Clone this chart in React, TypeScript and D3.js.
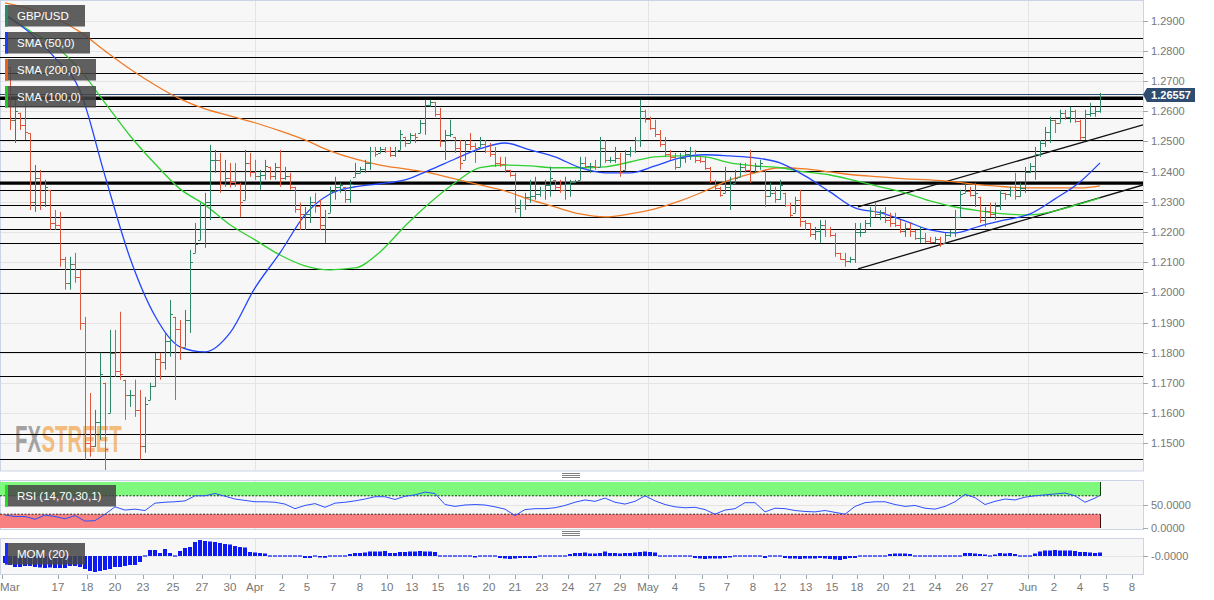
import React from "react";
import * as d3 from "d3";

// ---------- DATA (prices stored as price x 10,000) ----------
const PIP = 10000;
const firstOpen = 12820;
const highs = [
  12853, 12747, 12638, 12595, 12628, 12528, 12422, 12406, 12373, 12340,
  12273, 12267, 12118, 12118, 12131, 12075, 11919, 11667, 11611, 11800,
  11701, 11876, 11876, 11936, 11711, 11677, 11711, 11677, 11654, 11701,
  11800, 11800, 11866, 11975, 11919, 11909, 11942, 12141, 12230, 12297,
  12330, 12489, 12472, 12462, 12439, 12429, 12429, 12363, 12472, 12462,
  12439, 12406, 12439, 12416, 12429, 12472, 12416, 12396, 12350, 12297,
  12283, 12317, 12330, 12307, 12273, 12350, 12383, 12363, 12350, 12373,
  12429, 12416, 12439, 12482, 12482, 12482, 12482, 12482, 12482, 12538,
  12515, 12528, 12528, 12572, 12638, 12638, 12631, 12611, 12538, 12572,
  12515, 12505, 12505, 12528, 12495, 12515, 12505, 12495, 12482, 12449,
  12449, 12406, 12396, 12307, 12330, 12373, 12383, 12350, 12373, 12416,
  12373, 12373, 12383, 12373, 12373, 12449, 12449, 12429, 12439, 12515,
  12505, 12449, 12482, 12462, 12472, 12482, 12515, 12638, 12605, 12582,
  12572, 12538, 12515, 12472, 12462, 12462, 12472, 12482, 12472, 12449,
  12449, 12416, 12373, 12350, 12416, 12383, 12406, 12429, 12429, 12472,
  12429, 12439, 12406, 12363, 12350, 12373, 12330, 12297, 12317, 12340,
  12240, 12230, 12217, 12240, 12240, 12217, 12197, 12131, 12131, 12118,
  12230, 12230, 12240, 12283, 12297, 12273, 12283, 12264, 12264, 12240,
  12230, 12230, 12207, 12217, 12197, 12184, 12184, 12184, 12197, 12207,
  12273, 12340, 12363, 12350, 12363, 12317, 12283, 12297, 12297, 12340,
  12330, 12350, 12396, 12363, 12416, 12429, 12482, 12505, 12548, 12582,
  12572, 12605, 12605, 12615, 12605, 12572, 12605, 12628, 12615, 12661,
];
const lows = [
  12803, 12538, 12495, 12538, 12505, 12273, 12267, 12273, 12283, 12207,
  12207, 12085, 12009, 12009, 12032, 11876, 11446, 11456, 11488, 11512,
  11412, 11601, 11720, 11711, 11578, 11621, 11588, 11446, 11469, 11644,
  11687, 11711, 11744, 11787, 11644, 11777, 11820, 11866, 12131, 12174,
  12148, 12240, 12396, 12330, 12350, 12347, 12350, 12250, 12307, 12383,
  12373, 12340, 12373, 12373, 12373, 12350, 12373, 12340, 12264, 12207,
  12207, 12230, 12264, 12207, 12164, 12264, 12307, 12330, 12297, 12297,
  12383, 12396, 12396, 12406, 12449, 12462, 12462, 12449, 12449, 12472,
  12482, 12495, 12495, 12528, 12522, 12615, 12582, 12482, 12439, 12515,
  12462, 12406, 12439, 12472, 12429, 12482, 12462, 12449, 12416, 12416,
  12396, 12383, 12264, 12250, 12273, 12297, 12307, 12317, 12307, 12317,
  12340, 12330, 12307, 12317, 12363, 12373, 12406, 12396, 12406, 12416,
  12429, 12429, 12429, 12383, 12406, 12449, 12462, 12482, 12562, 12538,
  12515, 12482, 12449, 12439, 12406, 12416, 12429, 12439, 12429, 12429,
  12406, 12363, 12340, 12317, 12330, 12273, 12363, 12383, 12396, 12363,
  12396, 12406, 12283, 12317, 12297, 12307, 12283, 12250, 12264, 12217,
  12207, 12184, 12174, 12164, 12184, 12184, 12118, 12108, 12085, 12098,
  12098, 12184, 12197, 12217, 12250, 12240, 12230, 12217, 12217, 12197,
  12184, 12184, 12174, 12164, 12164, 12164, 12164, 12151, 12164, 12184,
  12184, 12250, 12330, 12317, 12283, 12230, 12217, 12250, 12240, 12273,
  12307, 12317, 12307, 12317, 12330, 12396, 12373, 12449, 12482, 12495,
  12528, 12562, 12572, 12562, 12562, 12505, 12505, 12582, 12582, 12595,
];
const closes = [
  12840, 12570, 12600, 12555, 12530, 12300, 12380, 12300, 12350, 12230,
  12225, 12110, 12030, 12095, 12050, 11900, 11500, 11490, 11570, 11730,
  11480, 11800, 11740, 11730, 11660, 11660, 11610, 11490, 11630, 11690,
  11780, 11770, 11840, 11930, 11880, 11820, 11910, 12100, 12160, 12210,
  12300, 12440, 12440, 12360, 12380, 12365, 12360, 12300, 12430, 12400,
  12385, 12390, 12420, 12385, 12415, 12380, 12385, 12350, 12275, 12260,
  12260, 12300, 12285, 12225, 12250, 12335, 12350, 12355, 12310, 12360,
  12395, 12410, 12430, 12470, 12460, 12475, 12468, 12455, 12468, 12525,
  12495, 12520, 12515, 12560, 12620, 12632, 12590, 12500, 12520, 12525,
  12480, 12430, 12490, 12485, 12480, 12490, 12470, 12460, 12430, 12425,
  12405, 12388, 12280, 12290, 12315, 12320, 12325, 12340, 12355, 12380,
  12350, 12340, 12360, 12365, 12370, 12430, 12420, 12420, 12415, 12480,
  12440, 12440, 12445, 12400, 12460, 12470, 12505, 12600, 12575, 12545,
  12525, 12490, 12460, 12448, 12415, 12445, 12460, 12470, 12440, 12435,
  12412, 12370, 12345, 12322, 12350, 12360, 12380, 12415, 12405, 12400,
  12420, 12430, 12320, 12330, 12310, 12355, 12290, 12255, 12305, 12235,
  12230, 12195, 12205, 12225, 12210, 12190, 12130, 12112, 12105, 12112,
  12200, 12200, 12230, 12270, 12260, 12265, 12240, 12230, 12225, 12205,
  12215, 12205, 12180, 12180, 12170, 12168, 12178, 12160, 12190, 12200,
  12250, 12325, 12335, 12322, 12330, 12240, 12270, 12260, 12285, 12330,
  12325, 12340, 12320, 12345, 12400, 12420, 12460, 12495, 12530, 12570,
  12560, 12595, 12580, 12600, 12568, 12515, 12590, 12595, 12600, 12655.7,
];

// moving averages, one reading every 5 bars (last reading on the final bar)
const sma50 = [
  12918, 12860, 12777, 12668, 12386, 12114, 11922, 11820, 11803, 11866,
  12015, 12131, 12257, 12326, 12350, 12360, 12373, 12406, 12442, 12476,
  12495, 12472, 12449, 12413, 12396, 12396, 12419, 12446, 12456, 12452,
  12446, 12429, 12386, 12333, 12280, 12264, 12237, 12207, 12197, 12220,
  12240, 12260, 12310, 12366, 12429,
];
const sma100 = [
  12923, 12866, 12817, 12737, 12628, 12519, 12426, 12343, 12290, 12224,
  12174, 12124, 12088, 12075, 12081, 12134, 12220, 12297, 12363, 12413,
  12422, 12419, 12413, 12413, 12416, 12432, 12449, 12452, 12449, 12429,
  12419, 12413, 12399, 12389, 12370, 12350, 12330, 12303, 12283, 12270,
  12260, 12257, 12270, 12293, 12313,
];
const sma200 = [
  12959, 12939, 12909, 12863, 12800, 12740, 12687, 12641, 12608, 12585,
  12562, 12535, 12505, 12469, 12442, 12422, 12409, 12396, 12376, 12356,
  12336, 12307, 12283, 12260, 12250, 12260, 12277, 12303, 12336, 12373,
  12396, 12413, 12409, 12399, 12389, 12383, 12376, 12373, 12366, 12356,
  12350, 12346, 12346, 12346, 12353,
];

// RSI, one reading every 2 bars (last reading on the final bar)
const rsi14 = [
  28, 25, 25, 19, 28, 25, 20, 27, 15, 16,
  30, 46, 39, 41, 38, 54, 56, 57, 59, 70,
  70, 75, 69, 63, 60, 57, 57, 56, 52, 42,
  49, 53, 45, 54, 56, 59, 63, 68, 68, 62,
  69, 72, 78, 75, 51, 47, 50, 51, 50, 46,
  41, 27, 40, 42, 42, 44, 49, 56, 61, 58,
  65, 56, 52, 58, 70, 59, 51, 46, 44, 45,
  40, 30, 39, 42, 55, 55, 35, 43, 42, 38,
  36, 35, 38, 34, 30, 47, 55, 57, 57, 51,
  47, 49, 43, 41, 47, 57, 73, 66, 51, 58,
  63, 61, 67, 70, 72, 74, 76, 70, 56, 65,
  71,
];

// Momentum (20), one value per bar
const mom20 = [
  -0.07, -0.09, -0.11, -0.11, -0.1, -0.1, -0.11, -0.115, -0.12, -0.115,
  -0.12, -0.12, -0.12, -0.1, -0.1, -0.11, -0.13, -0.15, -0.16, -0.15,
  -0.14, -0.13, -0.11, -0.11, -0.1, -0.09, -0.09, -0.06, -0.01, 0.06,
  0.06, 0.03, 0.07, 0.03, 0.0, 0.05, 0.08, 0.09, 0.14, 0.16,
  0.15, 0.145, 0.14, 0.13, 0.12, 0.115, 0.1, 0.09, 0.085, 0.04,
  0.035, 0.03, 0.025, 0.005, 0, 0, -0.005, -0.005, -0.005, -0.01,
  -0.02, -0.02, -0.01, -0.015, -0.018, -0.01, -0.005, -0.005, -0.005, 0.02,
  0.03, 0.03, 0.035, 0.045, 0.045, 0.045, 0.05, 0.03, 0.03, 0.04,
  0.04, 0.045, 0.045, 0.05, 0.045, 0.045, 0.04, 0.01, 0.01, 0.01,
  0.005, -0.01, -0.01, -0.01, -0.015, -0.01, -0.01, -0.005, -0.005, -0.02,
  -0.025, -0.03, -0.025, -0.02, -0.02, -0.02, -0.02, -0.01, -0.01, -0.01,
  -0.01, -0.01, -0.01, 0.02, 0.03, 0.03, 0.035, 0.025, 0.025, 0.03,
  0.045, 0.03, 0.03, 0.025, 0.03, 0.03, 0.035, 0.04, 0.045, 0.04,
  0.035, 0.005, 0, 0, 0, 0, 0, -0.005, -0.02, -0.025,
  -0.03, -0.025, -0.025, -0.025, -0.02, -0.015, -0.005, -0.005, -0.005, -0.005,
  -0.005, -0.01, -0.02, 0, 0, 0, -0.02, -0.025, -0.025, -0.03,
  -0.025, -0.025, -0.025, -0.02, -0.025, -0.03, -0.035, -0.04, -0.03, -0.02,
  -0.02, -0.01, 0, 0, 0.005, 0.005, 0.005, 0.02, 0.025, 0.025,
  0.025, 0.02, 0.005, 0, 0, -0.01, -0.01, -0.01, -0.01, 0,
  0, 0, 0.03, 0.03, 0.025, 0.02, 0.015, 0.01, 0.015, 0.03,
  0.025, 0.03, 0.02, 0, 0, 0.01, 0.025, 0.045, 0.055, 0.055,
  0.06, 0.055, 0.055, 0.055, 0.05, 0.04, 0.04, 0.035, 0.03, 0.035,
];

const levels = [
  1.2842, 1.2779, 1.2727, 1.2616, 1.2577, 1.2504, 1.2467, 1.2401, 1.2339, 1.2288,
  1.2249, 1.221, 1.2163, 1.2078, 1.1998, 1.1802, 1.1723, 1.1531, 1.1448, 1.141,
];
const keyLevels = [1.2643, 1.2362];
const lastPrice = 1.26557;
const channelTop = [[170.6, 1.2283], [227.6, 1.2555]];
const channelBottom = [[170.6, 1.2078], [227.6, 1.2356]];
const priceTicks = [
  1.15, 1.16, 1.17, 1.18, 1.19, 1.2, 1.21, 1.22, 1.23, 1.24, 1.25, 1.26, 1.27, 1.28, 1.29,
];
const dateTickPos = [
  -0.6, 10.6, 16.4, 22, 27.6, 33.6, 39.4, 45, 50, 55.4, 60.4, 65.6, 71, 76.4,
  81.4, 86.6, 91.6, 96.8, 102, 107.4, 112.6, 118, 123, 128.6, 134, 139.4, 144.4,
  149.6, 155, 160.2, 165.4, 170.4, 175.6, 180.8, 186, 191.4, 196.4, 204.6, 209.8,
  215, 220.2, 225.4,
];
const dateTickLabels = [
  "Mar", "17", "18", "20", "23", "25", "27", "30", "Apr", "2", "5", "7", "8", "10",
  "13", "15", "16", "20", "21", "23", "24", "27", "29", "May", "4", "5", "7",
  "8", "12", "13", "15", "18", "20", "21", "24", "26", "27", "Jun", "2",
  "4", "5", "8",
];

// ---------- LAYOUT ----------
const W = 1214;
const H = 600;
const PR = 1143; // plot right edge
const MAIN_T = 1;
const MAIN_B = 471;
const RSI_T = 480;
const RSI_B = 529;
const MOM_T = 538;
const MOM_B = 574;
const FONT = "'Liberation Sans', Arial, Helvetica, sans-serif";
const UP = "#2b8868";
const DOWN = "#e0563a";
const BORDER = "#cbd3e4";
const GRID = "#e4e4e4";

const Legend = ({ x, y, w, label, color }: any) => (
  <g>
    <rect x={x} y={y} width={w} height={21.5} fill="rgba(70,70,70,0.86)" />
    <rect x={x} y={y} width={3} height={21.5} fill={color} />
    <text x={x + 12} y={y + 11} dy="0.36em" fill="#fff" fontSize={11.5} fontFamily={FONT}>
      {label}
    </text>
  </g>
);

export default function App() {
  const N = closes.length;
  const x = d3.scaleLinear().domain([0, N - 1]).range([5, 1100]);
  const y = d3.scaleLinear().domain([1.15, 1.29]).range([443.4, 20.7]);
  const yR = d3.scaleLinear().domain([0, 100]).range([528, 482]);
  const yM = d3.scaleLinear().domain([-0.18, 0.18]).range([574, 538]);
  const crisp = (v: number) => Math.round(v) + 0.5;

  const bars = closes.map((c, i) => {
    const prev = i === 0 ? firstOpen : closes[i - 1];
    const hi = highs[i];
    const lo = lows[i];
    const o = Math.min(hi, Math.max(lo, prev));
    const cl = Math.min(hi, Math.max(lo, c));
    return { i, open: o / PIP, high: hi / PIP, low: lo / PIP, close: cl / PIP, up: cl >= o };
  });

  const smaIdx = (k: number, len: number) => (k === len - 1 ? N - 1 : k * 5);
  const smaLine = (arr: number[]) =>
    d3
      .line<number>()
      .x((_, k) => x(smaIdx(k, arr.length)))
      .y((v) => y(v / PIP))
      .curve(d3.curveMonotoneX)(arr) || "";

  const rsiPath =
    d3
      .line<number>()
      .x((_, k) => x(k === rsi14.length - 1 ? N - 1 : k * 2))
      .y((v) => yR(v))(rsi14) || "";

  const trend = (pts: number[][]) =>
    d3
      .line<number[]>()
      .x((d) => x(d[0]))
      .y((d) => y(d[1]))(pts) || "";

  const monthIdx = dateTickPos.filter((_, k) => ["Apr", "May", "Jun"].includes(dateTickLabels[k]));
  const lastX = x(N - 1);

  return (
    <div style={{ position: "fixed", left: 0, top: 0, width: W, height: H, background: "#fff" }}>
      <svg width={W} height={H} style={{ display: "block" }} fontFamily={FONT}>
        <defs>
          <clipPath id="clipMain">
            <rect x={0} y={MAIN_T} width={PR} height={MAIN_B - MAIN_T} />
          </clipPath>
          <clipPath id="clipRsi">
            <rect x={0} y={RSI_T} width={PR} height={RSI_B - RSI_T} />
          </clipPath>
        </defs>

        {/* panel backgrounds */}
        <rect x={0.5} y={MAIN_T - 0.5} width={PR} height={MAIN_B - MAIN_T + 0.5} fill="#f7f7f7" stroke={BORDER} />
        <rect x={0.5} y={RSI_T + 0.5} width={PR} height={RSI_B - RSI_T} fill="#f7f7f7" stroke={BORDER} />
        <rect x={0.5} y={MOM_T + 0.5} width={PR} height={MOM_B - MOM_T} fill="#f7f7f7" stroke={BORDER} />

        {/* grid */}
        {priceTicks.map((t) => (
          <line key={"g" + t} x1={1} x2={PR} y1={crisp(y(t))} y2={crisp(y(t))} stroke={GRID} />
        ))}
        <line x1={1} x2={PR} y1={crisp(yR(50))} y2={crisp(yR(50))} stroke={GRID} />
        <line x1={1} x2={PR} y1={crisp(yM(0))} y2={crisp(yM(0))} stroke={GRID} />
        {monthIdx.map((m) => (
          <g key={"m" + m}>
            <line x1={crisp(x(m))} x2={crisp(x(m))} y1={MAIN_T} y2={MAIN_B} stroke={GRID} />
            <line x1={crisp(x(m))} x2={crisp(x(m))} y1={RSI_T + 1} y2={RSI_B} stroke={GRID} />
            <line x1={crisp(x(m))} x2={crisp(x(m))} y1={MOM_T + 1} y2={MOM_B} stroke={GRID} />
          </g>
        ))}

        {/* watermark */}
        <g
          transform="translate(15,452) scale(0.55,1)"
          fontWeight={700}
          fontSize={37}
          fontFamily="'Liberation Sans', Arial, sans-serif"
          opacity={0.8}
        >
          <text x={0} y={0} fill="#8e8e8e">FX</text>
          <text x={48} y={0} fill="#f2ae62">STREET</text>
        </g>

        <g clipPath="url(#clipMain)">
          {/* support / resistance levels */}
          {levels.map((l) => (
            <line key={"l" + l} x1={0} x2={PR} y1={crisp(y(l))} y2={crisp(y(l))} stroke="#000" strokeWidth={1} />
          ))}
          {keyLevels.map((l) => (
            <line key={"k" + l} x1={0} x2={PR} y1={y(l)} y2={y(l)} stroke="#000" strokeWidth={3.4} />
          ))}
          <line x1={0} x2={PR} y1={crisp(y(lastPrice))} y2={crisp(y(lastPrice))} stroke="#2d4a70" strokeWidth={1} />
          {/* channel */}
          <path d={trend(channelTop)} stroke="#111" strokeWidth={1.3} fill="none" />
          <path d={trend(channelBottom)} stroke="#111" strokeWidth={1.3} fill="none" />

          {/* SMAs */}
          <path d={smaLine(sma200)} stroke="#f07a25" strokeWidth={1.3} fill="none" />
          <path d={smaLine(sma100)} stroke="#2fd02f" strokeWidth={1.3} fill="none" />
          <path d={smaLine(sma50)} stroke="#2346ff" strokeWidth={1.3} fill="none" />

          {/* OHLC bars */}
          {bars.map((b) => {
            const cx = crisp(x(b.i));
            const d = `M${cx},${y(b.high)}V${y(b.low)}M${cx - 2.5},${crisp(y(b.open))}H${cx}M${cx},${crisp(
              y(b.close)
            )}H${cx + 2.5}`;
            return <path key={"b" + b.i} d={d} stroke={b.up ? UP : DOWN} strokeWidth={1} fill="none" />;
          })}
        </g>

        {/* RSI panel */}
        <g clipPath="url(#clipRsi)">
          <rect x={0} y={yR(100)} width={lastX} height={yR(70) - yR(100)} fill="#7ef97e" />
          <rect x={0} y={yR(30)} width={lastX} height={yR(0) - yR(30)} fill="#f98080" />
          <line x1={0} x2={lastX} y1={yR(70)} y2={yR(70)} stroke="#000" strokeWidth={0.8} strokeDasharray="2,1.5" />
          <line x1={0} x2={lastX} y1={yR(30)} y2={yR(30)} stroke="#000" strokeWidth={0.8} strokeDasharray="2,1.5" />
          <line x1={lastX + 0.5} x2={lastX + 0.5} y1={yR(100)} y2={yR(70)} stroke="#0b3d0b" />
          <line x1={lastX + 0.5} x2={lastX + 0.5} y1={yR(30)} y2={yR(0)} stroke="#3d0b0b" />
          <path d={rsiPath} stroke="#2f50ff" strokeWidth={1} fill="none" />
        </g>

        {/* MOM panel */}
        {mom20.map((v, i) => {
          const y0 = yM(0);
          const y1 = yM(v);
          const top = Math.min(y0, y1);
          const h = Math.max(1.2, Math.abs(y1 - y0));
          return <rect key={"mo" + i} x={x(i) - 2} y={Math.abs(y1 - y0) < 1.2 ? y0 - 0.6 : top} width={4} height={h} fill="#0d1bf2" />;
        })}

        {/* drag handles */}
        {[473.5, 475.5, 477.5, 531.5, 533.5, 535.5].map((hy) => (
          <line key={"h" + hy} x1={562} x2={580} y1={hy} y2={hy} stroke="#808080" strokeWidth={1} />
        ))}

        {/* legends */}
        <Legend x={5} y={5} w={80} label="GBP/USD" color="#2b8a6a" />
        <Legend x={5} y={32} w={85} label="SMA (50,0)" color="#1f3cf5" />
        <Legend x={5} y={59} w={91} label="SMA (200,0)" color="#e8641e" />
        <Legend x={5} y={86} w={91} label="SMA (100,0)" color="#22c822" />
        <Legend x={5} y={485} w={111} label="RSI (14,70,30,1)" color="#22dd22" />
        <Legend x={5} y={543} w={80} label="MOM (20)" color="#1a2cff" />

        {/* right price axis */}
        {priceTicks.map((t) => (
          <g key={"t" + t}>
            <line x1={PR} x2={PR + 5} y1={crisp(y(t))} y2={crisp(y(t))} stroke="#9aa" />
            <text x={PR + 8} y={y(t)} dy="0.36em" fontSize={11} fill="#777">
              {d3.format(".4f")(t)}
            </text>
          </g>
        ))}
        {[50, 0].map((t) => (
          <g key={"r" + t}>
            <line x1={PR} x2={PR + 5} y1={crisp(yR(t))} y2={crisp(yR(t))} stroke="#9aa" />
            <text x={PR + 8} y={yR(t)} dy="0.36em" fontSize={11} fill="#777">
              {d3.format(".4f")(t)}
            </text>
          </g>
        ))}
        <line x1={PR} x2={PR + 5} y1={crisp(yM(0))} y2={crisp(yM(0))} stroke="#9aa" />
        <text x={PR + 8} y={yM(0)} dy="0.36em" fontSize={11} fill="#777">
          -0.0000
        </text>

        {/* last price tag */}
        <path
          d={`M${PR},${y(lastPrice)} L${PR + 4},${y(lastPrice) - 6.5} H1195 V${y(lastPrice) + 7.5} H${PR + 4} Z`}
          fill="#2e4b70"
        />
        <text x={1171} y={y(lastPrice) + 0.5} dy="0.36em" fontSize={11} fontWeight={700} fill="#fff" textAnchor="middle">
          {d3.format(".5f")(lastPrice)}
        </text>

        {/* date axis */}
        {dateTickPos.map((p, k) => (
          <g key={"d" + k}>
            <line x1={crisp(x(p))} x2={crisp(x(p))} y1={MOM_B + 1} y2={MOM_B + 5} stroke="#9aa" />
            <text
              x={k === 0 ? 0 : x(p)}
              y={591}
              fontSize={11.5}
              fill="#777"
              textAnchor={k === 0 ? "start" : "middle"}
            >
              {dateTickLabels[k]}
            </text>
          </g>
        ))}
      </svg>
    </div>
  );
}
